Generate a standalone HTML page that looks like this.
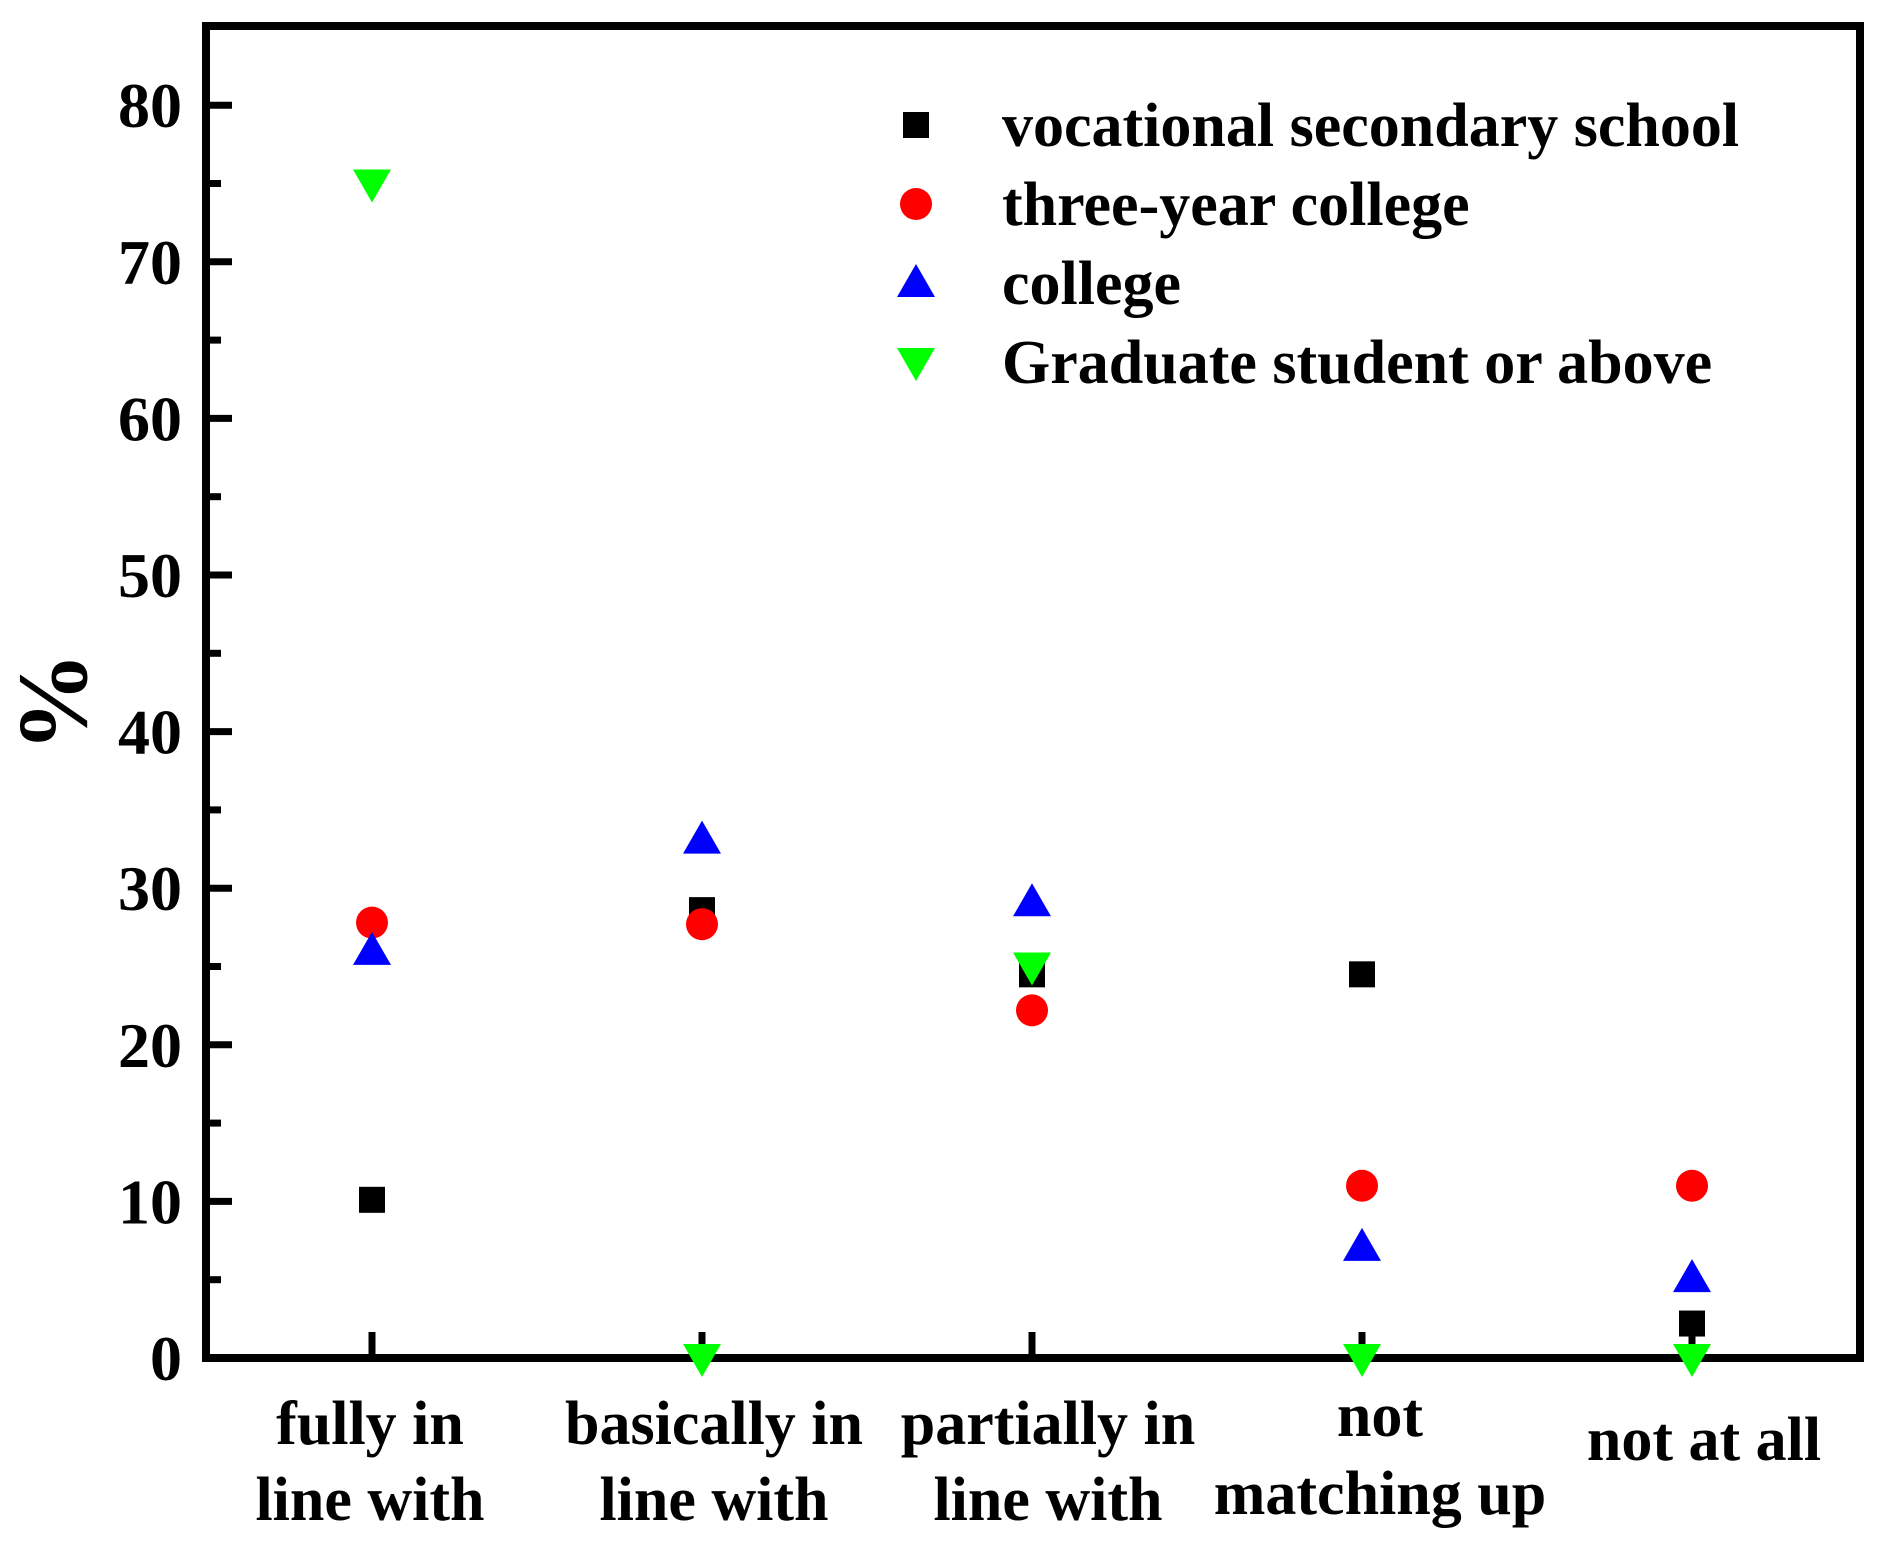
<!DOCTYPE html>
<html><head><meta charset="utf-8"><style>
body{margin:0;background:#fff}
svg text{font-family:"Liberation Serif",serif;font-weight:bold;fill:#000}
</style></head><body>
<svg id="c" width="1881" height="1546" viewBox="0 0 1881 1546" xmlns="http://www.w3.org/2000/svg">
<rect x="0" y="0" width="1881" height="1546" fill="#fff"/>
<g id="g"></g>
</svg>
<script>
const categories=["fully in|line with","basically in|line with","partially in|line with","not|matching up","not at all"];
const vocational=[10.1,28.6,24.5,24.5,2.2];
const threeYear=[27.8,27.7,22.2,11,11];
const college=[26,33.1,29.1,7.1,5.1];
const graduate=[75,0,25,0,0];
const yTicks=[0,10,20,30,40,50,60,70,80];
const seriesNames=["vocational secondary school","three-year college","college","Graduate student or above"];

const L=206,R=1860,T=26,B=1358;
const y=v=>B-v*15.66;
const xs=[372,702,1032,1362,1692];
const x=i=>xs[0]+i*(xs[4]-xs[0])/(categories.length-1);
const g=document.getElementById('g');
const NS='http://www.w3.org/2000/svg';
function mk(t,a,p){const e=document.createElementNS(NS,t);for(const k in a)e.setAttribute(k,a[k]);(p||g).appendChild(e);return e;}

yTicks.forEach(v=>{
  const t=mk('line',{x1:L,x2:L+26,y1:y(v),y2:y(v),stroke:'#000','stroke-width':7});
  
  
  const tx=mk('text',{x:L-24,y:y(v)+22,'text-anchor':'end','font-size':64});
  tx.textContent=v;
  
  
  if(v<80){const m=mk('line',{x1:L,x2:L+15,y1:y(v+5),y2:y(v+5),stroke:'#000','stroke-width':7});
    
    }
});
categories.forEach((c,i)=>{
  const t=mk('line',{x1:x(i),x2:x(i),y1:B,y2:B-26,stroke:'#000','stroke-width':7});
  
  
  const parts=c.split('|');
  const tx=mk('text',{x:x(i)+(i==0?-2:i==1?12:i==2?16:i==3?18:12),'text-anchor':'middle','font-size':62});
  
  
  const base=parts.length==1?1460:(i==3?1436:1444);
  parts.forEach((p,j)=>{const s=mk('tspan',{x:tx.getAttribute('x'),y:base+j*(i==3?78:76)},tx);s.textContent=p;});
});
const fr=mk('rect',{x:L,y:T,width:R-L,height:B-T,fill:'none',stroke:'#000','stroke-width':8});



const yl=mk('text',{x:0,y:0,'text-anchor':'middle','font-size':100,transform:'translate(86,702) rotate(-90)'});
yl.textContent='%';



function marker(type,cx,cy){
  let e;
  if(type==0)e=mk('rect',{x:cx-13,y:cy-13,width:26,height:26,fill:'#000'});
  else if(type==1)e=mk('circle',{cx:cx,cy:cy,r:16,fill:'#ff0000'});
  else if(type==2)e=mk('polygon',{points:`${cx},${cy-19} ${cx+19},${cy+14} ${cx-19},${cy+14}`,fill:'#0000ff'});
  else e=mk('polygon',{points:`${cx},${cy+19} ${cx+19},${cy-14} ${cx-19},${cy-14}`,fill:'#00ff00'});
  return e;
}
[vocational,threeYear,college,graduate].forEach((s,k)=>{
  s.forEach((v,i)=>{
    const m=marker(k,x(i),y(v));
    
    
  });
});
const ly=[125,204,283,362];
seriesNames.forEach((n,k)=>{
  const m=marker(k,916,ly[k]);
  
  
  const t=mk('text',{x:1002,y:ly[k]+21,'font-size':62});
  t.textContent=n;
  
  
});
</script>
</body></html>
